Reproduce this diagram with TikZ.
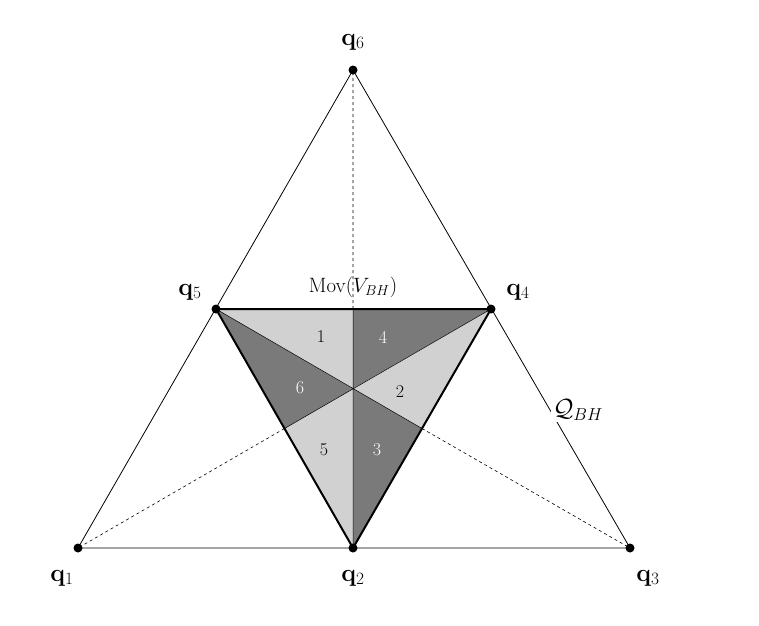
\documentclass[tikz,border=0pt]{standalone}
\usepackage{amsmath}
\begin{document}
\begin{tikzpicture}[x=1pt,y=-1pt,
  dot/.style={circle,fill=black,inner sep=0pt,minimum size=9pt},
  lab/.style={font=\fontsize{24}{28}\selectfont},
  num/.style={font=\fontsize{18}{20}\selectfont},
  light/.style={fill=black!18},
  dark/.style={fill=black!52}]
\useasboundingbox (0,0) rectangle (759,625);
\coordinate (q1) at (78,548);
\coordinate (q2) at (353,548);
\coordinate (q3) at (630,548);
\coordinate (q6) at (353,70);
\coordinate (q5) at (216,309);
\coordinate (q4) at (491,309);
\coordinate (C) at (353,388.7);
\coordinate (Mt) at (353,309);
\coordinate (Mr) at (422,428.5);
\coordinate (Ml) at (284.5,428.5);
\fill[light] (q5)--(Mt)--(C)--cycle;
\fill[dark] (Mt)--(q4)--(C)--cycle;
\fill[light] (q4)--(Mr)--(C)--cycle;
\fill[dark] (Mr)--(q2)--(C)--cycle;
\fill[light] (q2)--(Ml)--(C)--cycle;
\fill[dark] (Ml)--(q5)--(C)--cycle;
\draw[line width=0.5pt] (q5)--(Mr) (q4)--(Ml) (q2)--(Mt);
\draw[dashed,line width=0.6pt] (Mr)--(q3) (Ml)--(q1) (Mt)--(q6);
\draw[line width=0.8pt] (q1)--(q3)--(q6)--cycle;
\draw[line width=2pt,line join=round] (q5)--(q4)--(q2)--cycle;
\node[fill=white,inner sep=2pt,lab] (Q) at (578,410) {$\mathcal{Q}_{BH}$};
\foreach \p in {q1,q2,q3,q4,q5,q6} \node[dot] (d\p) at (\p) {};
\node[lab] (l6) at (353,42) {$\mathbf{q}_6$};
\node[lab] (l5) at (190,292) {$\mathbf{q}_5$};
\node[lab] (l4) at (518,292) {$\mathbf{q}_4$};
\node[lab] (l1) at (62,578) {$\mathbf{q}_1$};
\node[lab] (l2) at (353,578) {$\mathbf{q}_2$};
\node[lab] (l3) at (648,578) {$\mathbf{q}_3$};
\node[font=\fontsize{21}{24}\selectfont] (mov) at (353,287) {$\mathrm{Mov}(V_{BH})$};
\node[num] (n1) at (321,337) {1};
\node[num,white] (n4) at (383,337) {4};
\node[num] (n2) at (400,392) {2};
\node[num,white] (n6) at (300,388) {6};
\node[num] (n5) at (324,450) {5};
\node[num,white] (n3) at (377,450) {3};
\end{tikzpicture}
\end{document}
